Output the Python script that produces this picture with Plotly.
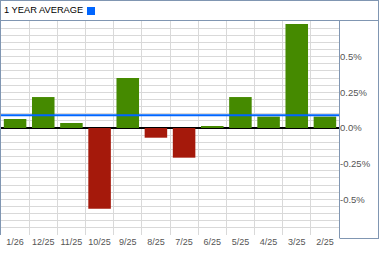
import plotly.graph_objects as go

months = ["1/26", "12/25", "11/25", "10/25", "9/25", "8/25", "7/25", "6/25", "5/25", "4/25", "3/25", "2/25"]
returns = [0.063, 0.217, 0.035, -0.566, 0.35, -0.068, -0.208, 0.014, 0.217, 0.08, 0.729, 0.08]
year_average = 0.089
y_tickvals = [-0.5, -0.25, 0.0, 0.25, 0.5]
y_ticktext = ["-0.5%", "-0.25%", "0.0%", "0.25%", "0.5%"]
title_text = "1 YEAR AVERAGE"

GREEN = "#458A00"
RED = "#A5190B"
BLUE = "#0066FF"
BORDER = "#8096B2"
GRID = "#D9D9D9"

colors = [GREEN if v >= 0 else RED for v in returns]

fig = go.Figure()
fig.add_trace(go.Bar(x=months, y=returns, marker=dict(color=colors, line=dict(width=0)),
                     hoverinfo="x+y"))

W, H = 379, 255
L, R, T, B = 1, 40, 21, 20
pw, ph = W - L - R, H - T - B

def px(x):
    return (x - L) / pw

def py(y):
    return (H - B - y) / ph

shapes = []
# average line
shapes.append(dict(type="line", xref="paper", yref="y", x0=0, x1=1, y0=year_average, y1=year_average,
                   line=dict(color=BLUE, width=2), layer="above"))
# borders
def hline(y, x0, x1):
    shapes.append(dict(type="line", xref="paper", yref="paper", x0=px(x0), x1=px(x1), y0=py(y), y1=py(y),
                       line=dict(color=BORDER, width=1), layer="above"))

def vline(x, y0, y1):
    shapes.append(dict(type="line", xref="paper", yref="paper", x0=px(x), x1=px(x), y0=py(y0), y1=py(y1),
                       line=dict(color=BORDER, width=1), layer="above"))

hline(0.5, 0, 379)
hline(20.5, 0, 379)
vline(378.5, 0, 238)
vline(339.5, 20.5, 238)
hline(238.5, 339.5, 379)
vline(0.5, 0, 235)
# legend square
shapes.append(dict(type="rect", xref="paper", yref="paper", x0=px(87), x1=px(95), y0=py(15), y1=py(7),
                   fillcolor=BLUE, line=dict(width=0), layer="above"))

fig.update_layout(
    width=W, height=H,
    margin=dict(l=L, r=R, t=T, b=B, pad=0, autoexpand=False),
    paper_bgcolor="white", plot_bgcolor="white",
    showlegend=False,
    bargap=0.2,
    shapes=shapes,
    annotations=[dict(text=title_text, xref="paper", yref="paper", x=px(1.5), y=py(10.5),
                      xanchor="left", yanchor="middle", showarrow=False,
                      font=dict(family="Liberation Sans, Arial, sans-serif", size=9.3, color="black"))],
    font=dict(family="Liberation Sans, Arial, sans-serif", color="#555555"),
)
fig.update_xaxes(
    type="category", tickson="boundaries", showgrid=True, gridcolor=GRID, gridwidth=1,
    ticks="", showline=False, zeroline=False, automargin=False, tickangle=0,
    tickfont=dict(family="Liberation Sans Narrow, Liberation Sans, Arial, sans-serif", size=9, color="#555555"),
)
fig.update_yaxes(
    side="right", range=[-0.75, 0.75], tickmode="array", tickvals=y_tickvals, ticktext=y_ticktext,
    showgrid=True, gridcolor=GRID, gridwidth=1,
    minor=dict(tickmode="linear", tick0=0, dtick=0.05, showgrid=True, gridcolor=GRID, gridwidth=1, ticks=""),
    zeroline=True, zerolinecolor="black", zerolinewidth=1.5,
    ticks="", showline=False, automargin=False,
    tickfont=dict(family="Liberation Sans, Arial, sans-serif", size=9.5, color="#555555"),
)

fig.write_html("out.html")
